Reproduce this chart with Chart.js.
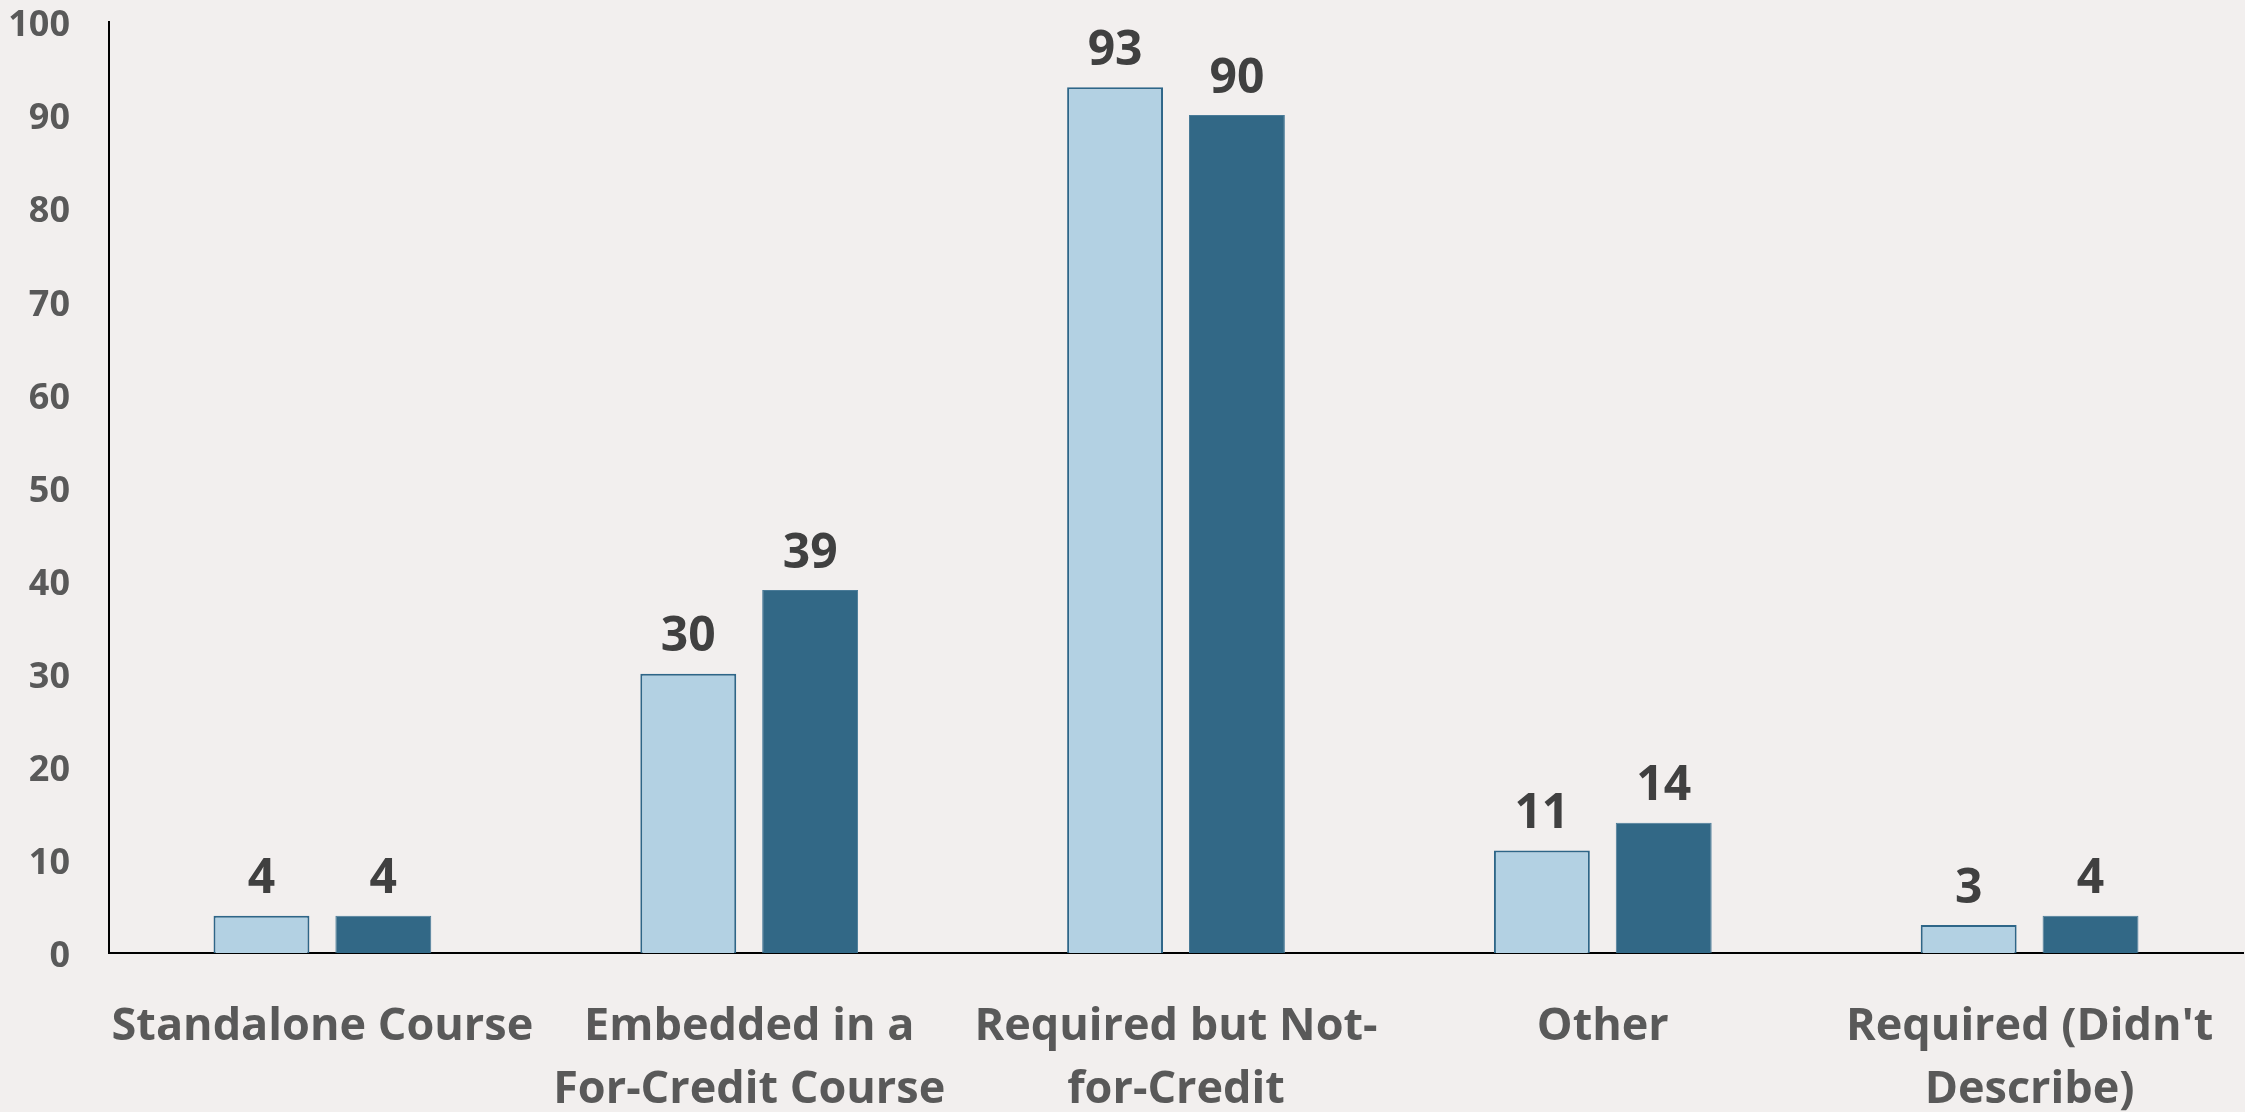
<!DOCTYPE html>
<html lang="en">
<head>
    <meta charset="UTF-8">
    <title>Course Types</title>
    <script src="https://cdn.jsdelivr.net/npm/chart.js"></script>
    <style>
        body {
            margin: 0;
            padding: 0;
            background: #f2efee;
            overflow: hidden;
        }

        .chart-box {
            width: 2245px;
            height: 1112px;
            position: relative;
        }
    </style>
</head>
<body>
    <div class="chart-box">
        <canvas id="courseChart"></canvas>
    </div>

    <script>
// chart data
const categories = [
    ['Standalone Course'],
    ['Embedded in a', 'For-Credit Course'],
    ['Required but Not-', 'for-Credit'],
    ['Other'],
    ["Required (Didn't", 'Describe)']
];
const seriesA = [4, 30, 93, 11, 3];
const seriesB = [4, 39, 90, 14, 4];
const yTicks = [0, 10, 20, 30, 40, 50, 60, 70, 80, 90, 100];

const FONT = "'Open Sans', 'Noto Sans', sans-serif";

// draws the value above each bar
const valueLabels = {
    id: 'valueLabels',
    afterDatasetsDraw(chart) {
        const ctx = chart.ctx;
        ctx.save();
        ctx.font = 'bold 48px ' + FONT;
        ctx.fillStyle = '#404040';
        ctx.textAlign = 'center';
        ctx.textBaseline = 'bottom';
        chart.data.datasets.forEach((ds, i) => {
            chart.getDatasetMeta(i).data.forEach((bar, j) => {
                ctx.fillText(ds.data[j], bar.x, bar.y - 12);
            });
        });
        ctx.restore();
    }
};

const ctx = document.getElementById('courseChart').getContext('2d');
const courseChart = new Chart(ctx, {
    type: 'bar',
    data: {
        labels: categories,
        datasets: [{
            label: 'Series A',
            data: seriesA,
            backgroundColor: '#b3d1e3',
            borderColor: '#2e6688',
            borderWidth: 2
        }, {
            label: 'Series B',
            data: seriesB,
            backgroundColor: '#326886',
            borderColor: '#4a7b98',
            borderWidth: 1
        }]
    },
    options: {
        responsive: true,
        maintainAspectRatio: false,
        animation: false,
        datasets: {
            bar: {
                categoryPercentage: 0.571,
                barPercentage: 0.787
            }
        },
        layout: {
            padding: { top: 22, right: 2, left: 0, bottom: 0 }
        },
        plugins: {
            legend: { display: false },
            tooltip: { enabled: false }
        },
        scales: {
            x: {
                // invisible tick marks push the labels down without extra side padding
                grid: { display: false, drawTicks: true, tickLength: 43, tickColor: 'transparent' },
                border: { display: true, color: '#000000', width: 2 },
                ticks: {
                    color: '#595959',
                    font: { family: FONT, size: 45, weight: 'bold', lineHeight: '63px' },
                    padding: 0,
                    maxRotation: 0,
                    autoSkip: false
                },
                afterFit(scale) { scale.height = 159; }
            },
            y: {
                min: 0,
                max: 100,
                afterBuildTicks(scale) {
                    scale.ticks = yTicks.map(v => ({ value: v }));
                },
                grid: { display: false, drawTicks: true, tickLength: 39, tickColor: 'transparent' },
                border: { display: true, color: '#000000', width: 2 },
                ticks: {
                    color: '#595959',
                    font: { family: FONT, size: 36, weight: 'bold' },
                    padding: 0,
                    labelOffset: 4
                },
                afterFit(scale) { scale.width = 109; }
            }
        }
    },
    plugins: [valueLabels]
});
    </script>
</body>
</html>
